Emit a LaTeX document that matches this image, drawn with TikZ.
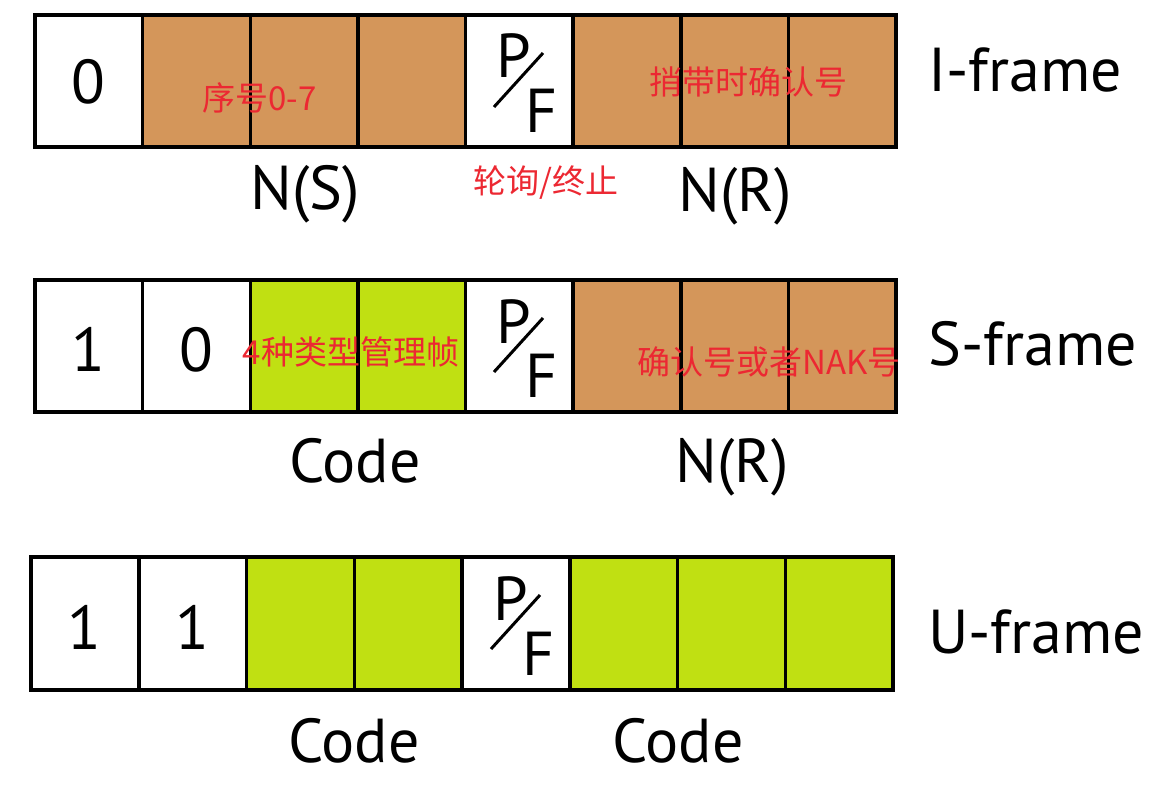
\documentclass[tikz,border=0pt]{standalone}
\usepackage{fontspec}
\setmainfont{PT Sans}
\newfontfamily\cjk{Noto Sans CJK SC}
\definecolor{brn}{RGB}{212,150,90}
\definecolor{grn}{RGB}{192,224,18}
\definecolor{redtxt}{RGB}{236,40,50}
\begin{document}
\begin{tikzpicture}[x=1pt,y=-1pt,
  cell/.style={draw=black, line width=3.5pt, outer sep=0pt, inner sep=0pt},
  outline/.style={draw=black, line width=4.5pt},
  big/.style={inner sep=0pt, font=\fontsize{62}{62}\selectfont},
  pfl/.style={inner sep=0pt, anchor=base west, font=\fontsize{62}{62}\selectfont},
  note/.style={inner sep=0pt, text=redtxt, font=\cjk\fontsize{33}{33}\selectfont},
  slash/.style={line width=3pt}]
\useasboundingbox (0,0) rectangle (1151,786);
% ---------- I-frame ----------
\foreach \i/\f in {1/white,2/brn,3/brn,4/brn,5/white,6/brn,7/brn,8/brn}
  \node[cell, fill=\f, minimum width=107.625pt, minimum height=132pt] (a\i) at ({35+(\i-0.5)*107.625},81) {};
\draw[outline] (a1.north west) rectangle (a8.south east);
\node[big, anchor=base] (a1t) at (a1.center |- 0,104) {0};
\node[pfl] (a5p) at (496,78) {P};
\node[pfl] (a5f) at (525,133) {F};
\coordinate (a5s) at (494,107);
\coordinate (a5e) at (543,53);
\draw[slash] (a5s) -- (a5e);
\node[note] (an1) at (259.5,98) {序号0-7};
\node[note] (an2) at (748,82) {捎带时确认号};
\node[note] (an3) at (546,183) {轮询/终止};
\node[big, anchor=base west] (al) at (928,92) {I-frame};
\node[big, anchor=base] (ans) at (305,210) {N(S)};
\node[big, anchor=base] (anr) at (735,212) {N(R)};
% ---------- S-frame ----------
\foreach \i/\f in {1/white,2/white,3/grn,4/grn,5/white,6/brn,7/brn,8/brn}
  \node[cell, fill=\f, minimum width=107.625pt, minimum height=132pt] (b\i) at ({35+(\i-0.5)*107.625},346) {};
\draw[outline] (b1.north west) rectangle (b8.south east);
\node[big, anchor=base] (b1t) at (b1.center |- 0,371) {1};
\node[big, anchor=base] (b2t) at (b2.center |- 0,371) {0};
\node[pfl] (b5p) at (496,343) {P};
\node[pfl] (b5f) at (525,397) {F};
\coordinate (b5s) at (494,372);
\coordinate (b5e) at (543,318);
\draw[slash] (b5s) -- (b5e);
\node[note] (bn1) at (351,352) {4种类型管理帧};
\node[note] (bn2) at (769,362) {确认号或者NAK号};
\node[big, anchor=base west] (bl) at (928,365) {S-frame};
\node[big, anchor=base] (bcode) at (355,482) {Code};
\node[big, anchor=base] (bnr) at (732,482) {N(R)};
% ---------- U-frame ----------
\foreach \i/\f in {1/white,2/white,3/grn,4/grn,5/white,6/grn,7/grn,8/grn}
  \node[cell, fill=\f, minimum width=107.75pt, minimum height=133pt] (c\i) at ({31+(\i-0.5)*107.75},623.5) {};
\draw[outline] (c1.north west) rectangle (c8.south east);
\node[big, anchor=base] (c1t) at (c1.center |- 0,649) {1};
\node[big, anchor=base] (c2t) at (c2.center |- 0,649) {1};
\node[pfl] (c5p) at (493,620) {P};
\node[pfl] (c5f) at (522,675) {F};
\coordinate (c5s) at (491,649);
\coordinate (c5e) at (540,595);
\draw[slash] (c5s) -- (c5e);
\node[big, anchor=base west] (cl) at (928,653) {U-frame};
\node[big, anchor=base] (ccode1) at (354,762) {Code};
\node[big, anchor=base] (ccode2) at (678,762) {Code};
\end{tikzpicture}
\end{document}
